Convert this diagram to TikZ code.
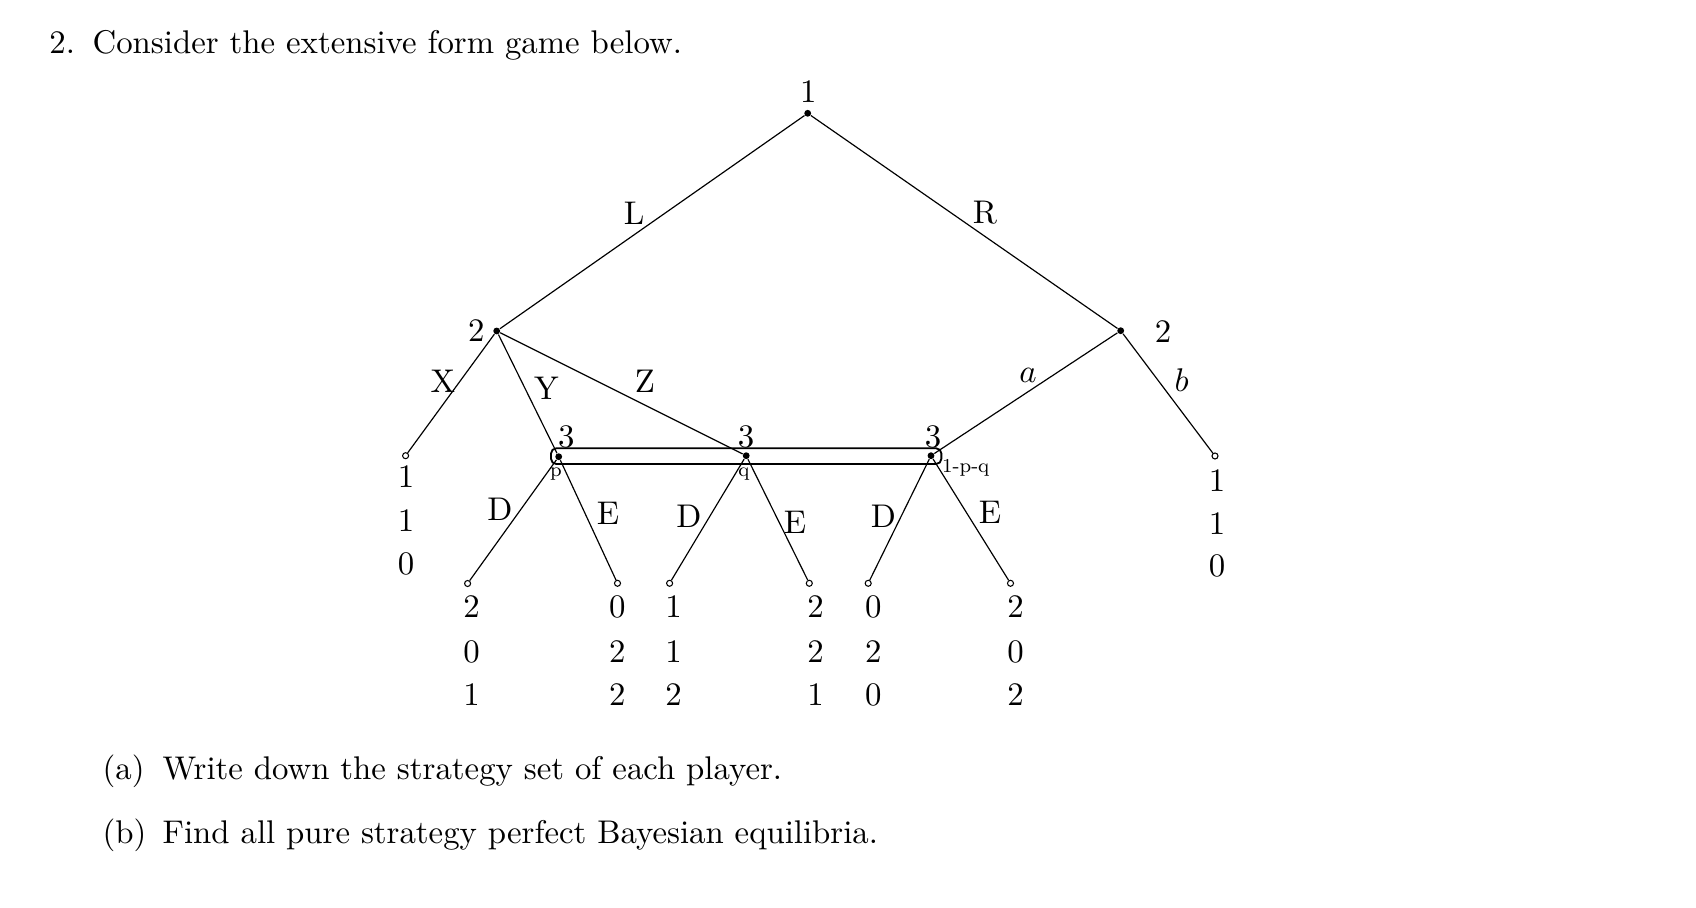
\documentclass[tikz,border=0pt]{standalone}
\begin{document}
\begin{tikzpicture}[x=0.381pt,y=-0.381pt,
  dec/.style={circle,fill,inner sep=0pt,minimum size=2.6pt},
  term/.style={circle,draw,fill=white,inner sep=0pt,minimum size=2.3pt,line width=0.4pt},
  edge/.style={line width=0.45pt},
  lab/.style={inner sep=0pt,font=\fontsize{10}{12}\selectfont,scale=1.25,transform shape},
  sm/.style={inner sep=0pt,font=\fontsize{7.5}{9}\selectfont},
  infoset/.style={line width=0.7pt,rounded corners=2pt}]
\useasboundingbox (0,0) rectangle (1696,908);
% title
\node[lab,anchor=base west] (t2) at (48.8,54) {2.};
\node[lab,anchor=base west] (t) at (92,54) {Consider the extensive form game below.};
% information set
\draw[infoset] (551,448.3) rectangle (941.4,464);
% decision nodes
\node[dec] (r) at (807.7,113.3) {};
\node[dec] (L2) at (496.7,331) {};
\node[dec] (R2) at (1120.7,330.7) {};
\node[dec] (s1) at (558.7,456.7) {};
\node[dec] (s2) at (746.2,455.7) {};
\node[dec] (s3) at (931,455.7) {};
% terminal nodes
\node[term] (tX) at (405.6,455.7) {};
\node[term] (tb) at (1215,456) {};
\node[term] (t1) at (467.6,583.5) {};
\node[term] (t2e) at (617.5,583.3) {};
\node[term] (t3) at (669.6,583.3) {};
\node[term] (t4) at (809.3,583.3) {};
\node[term] (t5) at (868.2,583.3) {};
\node[term] (t6) at (1010.5,583.3) {};
% edges
\draw[edge] (r) -- (L2);
\draw[edge] (r) -- (R2);
\draw[edge] (L2) -- (tX);
\draw[edge] (L2) -- (s1);
\draw[edge] (L2) -- (s2);
\draw[edge] (R2) -- (s3);
\draw[edge] (R2) -- (tb);
\draw[edge] (s1) -- (t1);
\draw[edge] (s1) -- (t2e);
\draw[edge] (s2) -- (t3);
\draw[edge] (s2) -- (t4);
\draw[edge] (s3) -- (t5);
\draw[edge] (s3) -- (t6);
% player labels
\node[lab] (pr) at (808.3,91.7) {1};
\node[lab] (pL) at (476.4,331) {2};
\node[lab] (pR) at (1163,331.7) {2};
\node[lab] (p1) at (566.4,436.7) {3};
\node[lab] (p2) at (746,436.7) {3};
\node[lab] (p3) at (933,436.7) {3};
% beliefs
\node[sm] (bp) at (556,474) {p};
\node[sm] (bq) at (744,474) {q};
\node[sm,anchor=west] (br) at (941.7,468.3) {1-p-q};
% action labels
\node[lab] (aL) at (634,213.3) {L};
\node[lab] (aR) at (985,213) {R};
\node[lab] (aX) at (443,381.7) {X};
\node[lab] (aY) at (546.5,388) {Y};
\node[lab] (aZ) at (645,381.7) {Z};
\node[lab] (aa) at (1028,375) {$a$};
\node[lab] (ab) at (1181.7,380) {$b$};
\node[lab] (d1) at (500,509) {D};
\node[lab] (e1) at (608,513) {E};
\node[lab] (d2) at (689,516.7) {D};
\node[lab] (e2) at (795,522) {E};
\node[lab] (d3) at (883.5,516.7) {D};
\node[lab] (e3) at (990,512.5) {E};
% payoffs
\node[lab] (xa) at (406,477) {1};
\node[lab] (xb) at (406,521) {1};
\node[lab] (xc) at (406,564) {0};
\node[lab] (ba) at (1217,481) {1};
\node[lab] (bb) at (1217,524) {1};
\node[lab] (bc) at (1217,566) {0};
\node[lab] (u1a) at (471.5,606.7) {2};
\node[lab] (u1b) at (471.5,651.7) {0};
\node[lab] (u1c) at (471.5,695) {1};
\node[lab] (u2a) at (617.3,606.7) {0};
\node[lab] (u2b) at (617.3,651.7) {2};
\node[lab] (u2c) at (617.3,695) {2};
\node[lab] (u3a) at (673.5,606.7) {1};
\node[lab] (u3b) at (673.5,651.7) {1};
\node[lab] (u3c) at (673.5,695) {2};
\node[lab] (u4a) at (815.6,606.7) {2};
\node[lab] (u4b) at (815.6,651.7) {2};
\node[lab] (u4c) at (815.6,695) {1};
\node[lab] (u5a) at (873.3,606.7) {0};
\node[lab] (u5b) at (873.3,651.7) {2};
\node[lab] (u5c) at (873.3,695) {0};
\node[lab] (u6a) at (1015.5,606.7) {2};
\node[lab] (u6b) at (1015.5,651.7) {0};
\node[lab] (u6c) at (1015.5,695) {2};
% questions
\node[lab,anchor=base west] (qa) at (102,780) {(a)};
\node[lab,anchor=base west] (qat) at (162,780) {Write down the strategy set of each player.};
\node[lab,anchor=base west] (qb) at (102,843.5) {(b)};
\node[lab,anchor=base west] (qbt) at (162,843.5) {Find all pure strategy perfect Bayesian equilibria.};
\end{tikzpicture}
\end{document}
